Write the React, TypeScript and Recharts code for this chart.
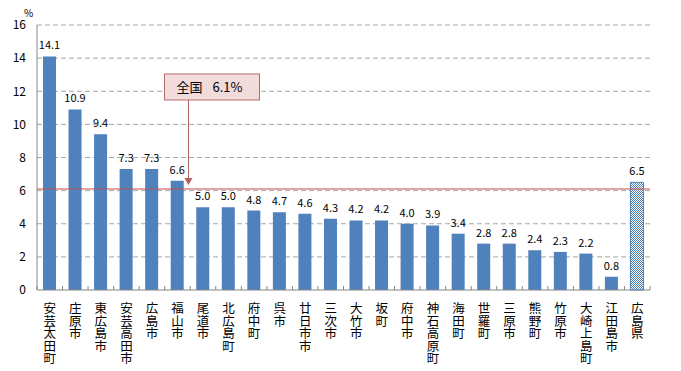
import React from "react";
import {
  BarChart, Bar, XAxis, YAxis, CartesianGrid, ReferenceLine, ReferenceDot, LabelList, Cell,
} from "recharts";

const municipalities = [
  "安芸太田町", "庄原市", "東広島市", "安芸高田市", "広島市", "福山市", "尾道市", "北広島町",
  "府中町", "呉市", "廿日市市", "三次市", "大竹市", "坂町", "府中市", "神石高原町",
  "海田町", "世羅町", "三原市", "熊野町", "竹原市", "大崎上島町", "江田島市", "広島県",
];
const rates = [
  14.1, 10.9, 9.4, 7.3, 7.3, 6.6, 5.0, 5.0, 4.8, 4.7, 4.6, 4.3,
  4.2, 4.2, 4.0, 3.9, 3.4, 2.8, 2.8, 2.4, 2.3, 2.2, 0.8, 6.5,
];
const yTicks = [0, 2, 4, 6, 8, 10, 12, 14, 16];
const nationalRate = 6.1;
const nationalLabel = "全国";
const calloutAt = "福山市";

const data = municipalities.map((name, i) => ({ name, rate: rates[i] }));

const FONT = "'Noto Sans CJK JP', 'Noto Sans', sans-serif";
const BLUE = "#4f81bd";
const AXIS = "#868686";

// vertical label + the little tick marks that sit between categories
function VerticalTick({ x, y, payload, index }: any) {
  const half = payload && payload.offset ? payload.offset : 12.75;
  const last = index === municipalities.length - 1;
  return (
    <g>
      <line x1={x - half} y1={y} x2={x - half} y2={y - 4} stroke={AXIS} />
      {last && <line x1={x + half} y1={y} x2={x + half} y2={y - 4} stroke={AXIS} />}
      <text
        x={x}
        y={y + 12}
        fontFamily={FONT}
        fontSize={12.5}
        fill="#000"
        style={{ writingMode: "vertical-rl" } as any}
      >
        {payload.value}
      </text>
    </g>
  );
}

function Callout({ cx, cy }: any) {
  if (cx == null || cy == null) return null;
  const ax = cx + 11;
  const boxX = cx - 13;
  const boxY = cy - 115;
  return (
    <g>
      <line x1={ax} y1={boxY + 26} x2={ax} y2={cy - 8} stroke="#b06060" strokeWidth={1} />
      <polygon points={`${ax - 4},${cy - 11} ${ax + 4},${cy - 11} ${ax},${cy - 4}`} fill="#b06060" />
      <rect x={boxX} y={boxY} width={95} height={26} fill="#f2dcdb" stroke="#b56b6b" strokeWidth={1} />
      <text x={boxX + 12} y={boxY + 18} fontFamily={FONT} fontSize={13} fill="#000">
        {nationalLabel}
        <tspan dx={10}>{`${nationalRate}%`}</tspan>
      </text>
    </g>
  );
}

export default function App() {
  return (
    <div style={{ position: "absolute", left: 0, top: 0, width: 681, height: 371, background: "#fff" }}>
      <BarChart
        width={681}
        height={371}
        data={data}
        margin={{ top: 25, right: 31, bottom: 0, left: 0 }}
      >
        <defs>
          <pattern id="checker" width="2" height="2" patternUnits="userSpaceOnUse">
            <rect width="2" height="2" fill="#ffffff" />
            <rect width="1" height="1" fill={BLUE} />
            <rect x="1" y="1" width="1" height="1" fill={BLUE} />
          </pattern>
        </defs>
        <CartesianGrid vertical={false} stroke="#a6a6a6" strokeDasharray="5 3" horizontalValues={yTicks.slice(1)} />
        <XAxis
          dataKey="name"
          interval={0}
          height={81}
          tick={<VerticalTick />}
          tickLine={false}
          tickSize={0}
          tickMargin={0}
          axisLine={{ stroke: AXIS }}
        />
        <YAxis
          domain={[0, 16]}
          ticks={yTicks}
          width={37}
          tickLine={false}
          axisLine={{ stroke: AXIS }}
          tick={{ fontFamily: FONT, fontSize: 12, fill: "#000" }}
          tickMargin={5}
          label={{ value: "%", position: "top", offset: 8, dx: 10, fontFamily: FONT, fontSize: 10, fill: "#000" }}
        />
        <ReferenceLine y={nationalRate} stroke="#c0504d" strokeWidth={1} />
        <Bar dataKey="rate" fill={BLUE} barSize={13} isAnimationActive={false}>
          {data.map((d, i) => (
            <Cell
              key={i}
              fill={i === data.length - 1 ? "url(#checker)" : BLUE}
              stroke={i === data.length - 1 ? BLUE : "none"}
            />
          ))}
          <LabelList
            dataKey="rate"
            position="top"
            offset={7}
            formatter={(v: any) => Number(v).toFixed(1)}
            style={{ fontFamily: FONT, fontSize: 11, fill: "#000" }}
          />
        </Bar>
        <ReferenceDot
          x={calloutAt}
          y={nationalRate}
          ifOverflow="visible"
          shape={<Callout />}
        />
      </BarChart>
    </div>
  );
}
